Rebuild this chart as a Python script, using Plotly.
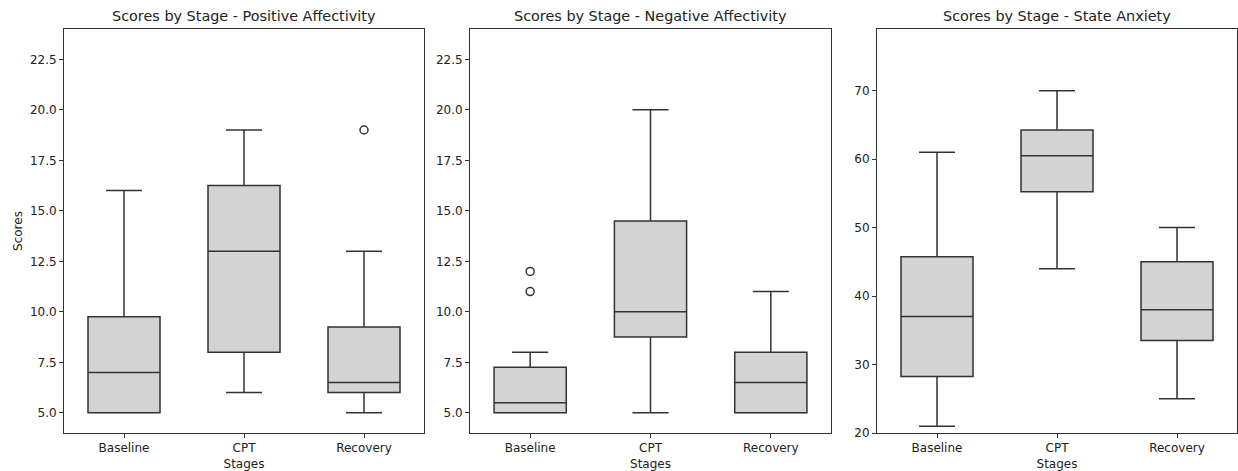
import plotly.graph_objects as go

stages = ["Baseline", "CPT", "Recovery"]
titles = ["Scores by Stage - Positive Affectivity",
          "Scores by Stage - Negative Affectivity",
          "Scores by Stage - State Anxiety"]

# Positive Affectivity
pa_low = [5, 6, 5]
pa_q1 = [5, 8, 6]
pa_med = [7, 13, 6.5]
pa_q3 = [9.75, 16.25, 9.25]
pa_high = [16, 19, 13]
pa_out_x = ["Recovery"]
pa_out_y = [19]

# Negative Affectivity
na_low = [5, 5, 5]
na_q1 = [5, 8.75, 5]
na_med = [5.5, 10, 6.5]
na_q3 = [7.25, 14.5, 8]
na_high = [8, 20, 11]
na_out_x = ["Baseline", "Baseline"]
na_out_y = [11, 12]

# State Anxiety
sa_low = [21, 44, 25]
sa_q1 = [28.25, 55.25, 33.5]
sa_med = [37, 60.5, 38]
sa_q3 = [45.75, 64.25, 45]
sa_high = [61, 70, 50]
sa_out_x = []
sa_out_y = []

y_ranges = [[4, 24], [4, 24], [20, 79]]
y_ticks = [[5, 7.5, 10, 12.5, 15, 17.5, 20, 22.5],
           [5, 7.5, 10, 12.5, 15, 17.5, 20, 22.5],
           [20, 30, 40, 50, 60, 70]]

panels = [
    (pa_low, pa_q1, pa_med, pa_q3, pa_high, pa_out_x, pa_out_y),
    (na_low, na_q1, na_med, na_q3, na_high, na_out_x, na_out_y),
    (sa_low, sa_q1, sa_med, sa_q3, sa_high, sa_out_x, sa_out_y),
]

W, H = 1238, 471
x_px = [(64, 424), (470, 831), (877, 1237)]
y_px = (29, 433)
LINE = "#333333"
FONT = "DejaVu Sans"

fig = go.Figure()
for i, (lo, q1, med, q3, hi, ox, oy) in enumerate(panels):
    ax = "" if i == 0 else str(i + 1)
    fig.add_trace(go.Box(
        x=stages, q1=q1, median=med, q3=q3, lowerfence=lo, upperfence=hi,
        fillcolor="#d3d3d3", line=dict(color=LINE, width=1.5),
        width=0.6, whiskerwidth=0.5, boxpoints=False, showlegend=False,
        xaxis="x" + ax, yaxis="y" + ax, hoverinfo="skip",
    ))
    if ox:
        fig.add_trace(go.Scatter(
            x=ox, y=oy, mode="markers", showlegend=False,
            marker=dict(symbol="circle-open", size=8, color=LINE, line=dict(width=1.5)),
            xaxis="x" + ax, yaxis="y" + ax, hoverinfo="skip",
        ))

layout = dict(
    width=W, height=H, margin=dict(l=0, r=0, t=0, b=0),
    paper_bgcolor="white", plot_bgcolor="white",
    font=dict(family=FONT, size=12, color="#222222"),
    annotations=[],
)
for i in range(3):
    ax = "" if i == 0 else str(i + 1)
    x0, x1 = x_px[i]
    layout["xaxis" + ax] = dict(
        domain=[x0 / W, x1 / W], anchor="y" + ax, type="category", automargin=False,
        range=[-0.5, 2.5], showline=True, linecolor=LINE, linewidth=1, mirror=True,
        ticks="outside", ticklen=4, tickcolor=LINE, showgrid=False, zeroline=False,
        title=dict(text="Stages", standoff=6, font=dict(size=12)),
        tickfont=dict(size=12),
    )
    layout["yaxis" + ax] = dict(
        domain=[1 - y_px[1] / H, 1 - y_px[0] / H], anchor="x" + ax, automargin=False,
        range=y_ranges[i], tickvals=y_ticks[i],
        ticktext=[(f"{v:.1f}" if i < 2 else f"{v:d}") for v in y_ticks[i]],
        showline=True, linecolor=LINE, linewidth=1, mirror=True,
        ticks="outside", ticklen=4, tickcolor=LINE, showgrid=False, zeroline=False,
        tickfont=dict(size=12),
    )
    if i == 0:
        layout["yaxis"]["title"] = dict(text="Scores", standoff=4, font=dict(size=12))
    layout["annotations"].append(dict(
        text=titles[i], xref="paper", yref="paper",
        x=(x0 + x1) / 2 / W, y=1 - 16 / H, xanchor="center", yanchor="middle",
        showarrow=False, font=dict(size=14.4, family=FONT, color="#222222"),
    ))

fig.update_layout(**layout)
fig.write_html("out.html")
